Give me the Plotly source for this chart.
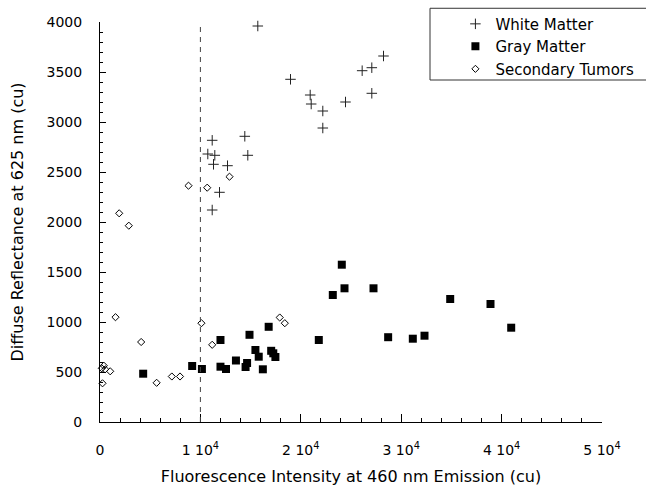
import plotly.graph_objects as go

# ---- data ----
white_x = [15717, 18974, 20936, 21036, 22191, 22191, 24452, 26112, 27073, 27073,
           28237, 11175, 10737, 11434, 11305, 12700, 14422, 14721, 11902, 11175]
white_y = [3960, 3427, 3270, 3180, 3110, 2940, 3200, 3513, 3543, 3287,
           3660, 2817, 2680, 2667, 2577, 2563, 2857, 2667, 2297, 2120]

gray_x = [4300, 9180, 10150, 12000, 12000, 12550, 13540, 14890, 14500, 14650,
          15480, 15810, 16220, 16800, 17050, 17260, 17470, 21793, 23187, 24084,
          24353, 27241, 28700, 31156, 32321, 34880, 38894, 40956]
gray_y = [483, 560, 530, 820, 553, 530, 615, 872, 550, 590,
          720, 653, 527, 952, 712, 687, 650, 820, 1270, 1573,
          1337, 1337, 848, 833, 863, 1230, 1180, 943]

tumor_x = [8815, 10677, 12898, 1912, 2869, 1544, 4100, 5640, 7153, 7969,
           10100, 11175, 17900, 18406, 380, 180, 515, 1016, 250]
tumor_y = [2363, 2343, 2453, 2087, 1963, 1048, 800, 392, 455, 455,
           988, 772, 1045, 988, 563, 537, 527, 507, 387]

series_names = ["White Matter", "Gray Matter", "Secondary Tumors"]

x_tickvals = [0, 10000, 20000, 30000, 40000, 50000]
x_ticktext = ["0", "1 10<sup>4</sup>", "2 10<sup>4</sup>", "3 10<sup>4</sup>",
              "4 10<sup>4</sup>", "5 10<sup>4</sup>"]
x_minor_vals = list(range(0, 50001, 2000))
x_range = [0, 50000]
y_range = [0, 4000]
threshold_x = 10000

x_title = "Fluorescence Intensity at 460 nm Emission (cu)"
y_title = "Diffuse Reflectance at 625 nm (cu)"

FONT = "DejaVu Sans"

fig = go.Figure()
fig.add_trace(go.Scatter(
    x=white_x, y=white_y, mode="markers", name=series_names[0], cliponaxis=False,
    marker=dict(symbol="cross-thin", size=7.5, color="black",
                line=dict(color="#222222", width=1))))
fig.add_trace(go.Scatter(
    x=gray_x, y=gray_y, mode="markers", name=series_names[1], cliponaxis=False,
    marker=dict(symbol="square", size=8, color="black",
                line=dict(color="black", width=0))))
fig.add_trace(go.Scatter(
    x=tumor_x, y=tumor_y, mode="markers", name=series_names[2], cliponaxis=False,
    marker=dict(symbol="diamond-open", size=5.5, color="black",
                line=dict(color="black", width=1))))

# dashed reference line at 1e4
fig.add_shape(type="line", xref="x", yref="y", x0=threshold_x, x1=threshold_x,
              y0=y_range[0], y1=y_range[1],
              line=dict(color="#444444", width=1, dash="5px,5px"))

# legend frame
fig.add_shape(type="rect", xref="paper", yref="paper",
              x0=0.6574, x1=1.095, y0=0.855, y1=1.0343,
              line=dict(color="#333333", width=1), fillcolor="rgba(0,0,0,0)")

fig.update_layout(
    width=646, height=490,
    margin=dict(l=100, r=44, t=22, b=68, autoexpand=False),
    paper_bgcolor="white", plot_bgcolor="white",
    font=dict(family=FONT, size=14, color="black"),
    showlegend=True,
    legend=dict(x=0.708, y=1.036, xanchor="left", yanchor="top",
                bgcolor="rgba(0,0,0,0)", borderwidth=0,
                font=dict(family=FONT, size=15, color="black"),
                itemwidth=30),
    xaxis=dict(range=x_range, showgrid=False, zeroline=False, automargin=False,
               showline=True, linecolor="black", linewidth=1,
               tickmode="array", tickvals=x_tickvals, ticktext=x_ticktext,
               ticks="inside", ticklen=8, tickcolor="black", tickwidth=1,
               ticklabelstandoff=15,
               minor=dict(tickvals=x_minor_vals, ticks="inside", ticklen=4,
                          tickcolor="black", tickwidth=1),
               tickfont=dict(family=FONT, size=14, color="black"),
               title=dict(text=x_title, font=dict(family=FONT, size=16, color="black"),
                          standoff=14)),
    yaxis=dict(range=y_range, showgrid=False, zeroline=False, automargin=False,
               showline=True, linecolor="black", linewidth=1,
               tickmode="linear", tick0=0, dtick=500,
               ticks="inside", ticklen=6, tickcolor="black", tickwidth=1,
               ticklabelstandoff=14,
               minor=dict(dtick=100, ticks="inside", ticklen=3,
                          tickcolor="black", tickwidth=1),
               tickfont=dict(family=FONT, size=14, color="black"),
               title=dict(text=y_title, font=dict(family=FONT, size=16, color="black"),
                          standoff=18)),
)

fig.write_html("out.html")
